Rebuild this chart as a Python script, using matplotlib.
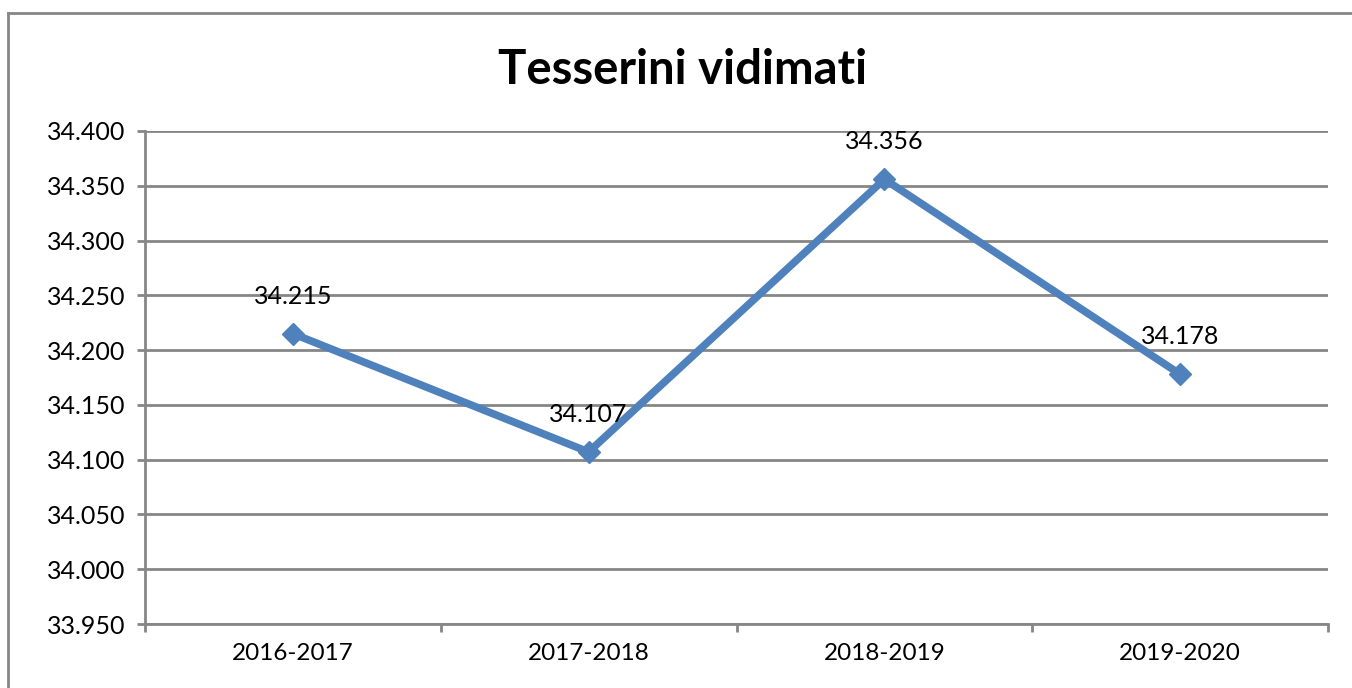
import matplotlib.pyplot as plt
from matplotlib.lines import Line2D
from matplotlib.ticker import FuncFormatter, FixedLocator

plt.rcParams['font.family'] = ['Lato', 'DejaVu Sans']

# dati
seasons = ['2016-2017', '2017-2018', '2018-2019', '2019-2020']
tesserini = [34215, 34107, 34356, 34178]
y_ticks = list(range(33950, 34401, 50))

W, H = 1352, 688
fig = plt.figure(figsize=(W / 100, H / 100), dpi=100)
ax = fig.add_axes([145 / W, 1 - 624 / H, (1328 - 145) / W, (624 - 131) / H])

grid_col = '#868686'
line_col = '#4F81BD'


def it_fmt(v, pos=None):
    # separatore delle migliaia all'italiana
    return f'{int(round(v)):,}'.replace(',', '.')


x = list(range(len(seasons)))
ax.plot(x, tesserini, color=line_col, lw=5.5, marker='D', ms=11,
        markerfacecolor=line_col, markeredgecolor=line_col, zorder=3)

for xi, v in zip(x, tesserini):
    ax.annotate(it_fmt(v), (xi, v), xytext=(0, 27), textcoords='offset points',
                ha='center', va='center', fontsize=18, color='black')

ax.set_ylim(33950, 34400)
ax.set_yticks(y_ticks)
ax.yaxis.set_major_formatter(FuncFormatter(it_fmt))
ax.set_xlim(-0.5, len(seasons) - 0.5)
ax.set_xticks(x)
ax.set_xticklabels(seasons)
ax.xaxis.set_minor_locator(FixedLocator([i - 0.5 for i in range(len(seasons) + 1)]))

ax.grid(axis='y', color=grid_col, lw=2)
ax.set_axisbelow(True)
for s in ['top', 'right']:
    ax.spines[s].set_visible(False)
for s in ['left', 'bottom']:
    ax.spines[s].set_color(grid_col)
    ax.spines[s].set_linewidth(2)

ax.tick_params(axis='y', which='major', length=6, width=2, color=grid_col,
               labelsize=18, pad=8)
ax.tick_params(axis='x', which='major', length=0, labelsize=17.5, pad=14)
ax.tick_params(axis='x', which='minor', length=6, width=2, color=grid_col)

fig.text(683 / W, 1 - 70 / H, 'Tesserini vidimati', ha='center', va='center',
         fontsize=34, fontweight='bold')

# cornice esterna (solo lati sinistro e superiore visibili)
fig.add_artist(Line2D([8 / W, 8 / W], [0, 1 - 13 / H], color=grid_col, lw=2,
                      transform=fig.transFigure))
fig.add_artist(Line2D([8 / W, 1], [1 - 13 / H, 1 - 13 / H], color=grid_col, lw=2,
                      transform=fig.transFigure))

fig.savefig('out.png', dpi=100)
